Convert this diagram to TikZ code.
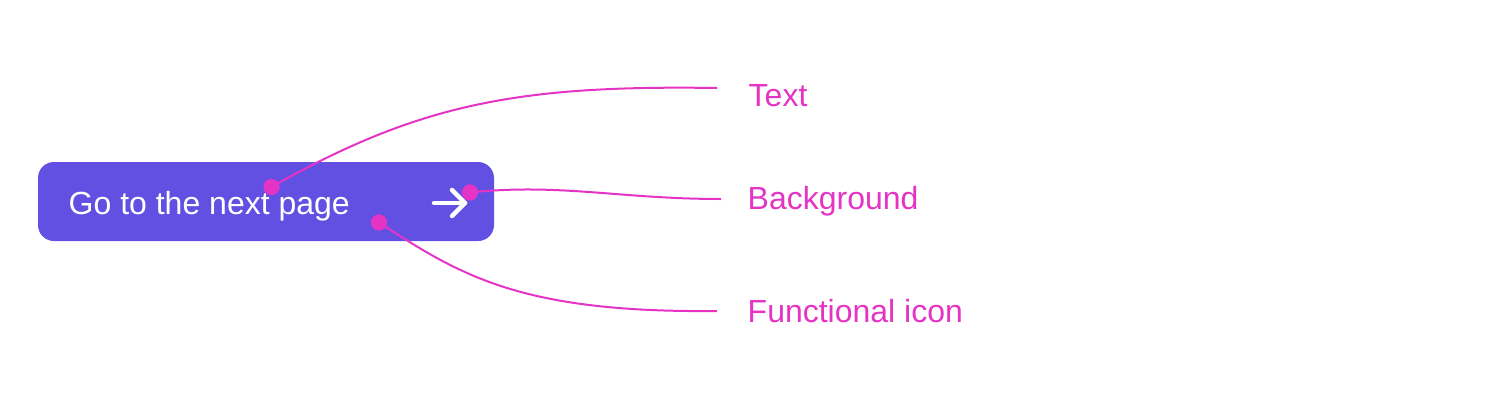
\documentclass[tikz,border=0pt]{standalone}
\usepackage{fontspec}
\setmainfont{Liberation Sans}
\definecolor{btncol}{RGB}{98,80,226}
\definecolor{mag}{RGB}{229,52,197}
\begin{document}
\begin{tikzpicture}[x=1pt,y=-1pt,
  lbl/.style={anchor=base west,inner sep=0pt,text=mag,font=\fontsize{32}{36}\selectfont},
  conn/.style={draw=mag,line width=2pt},
  pin/.style={circle,fill=mag,minimum size=16pt,inner sep=0pt}]
\useasboundingbox (0,0) rectangle (1498,402);
\fill[btncol,rounded corners=16pt] (38,162) rectangle (494,241);
\node[anchor=base west,inner sep=0pt,text=white,font=\fontsize{32}{36}\selectfont] (btntext) at (68.5,214) {Go to the next page};
% arrow icon
\draw[white,line width=4.5pt,line cap=round,line join=round] (434,203) -- (465,203);
\draw[white,line width=4.5pt,line cap=round,line join=round] (452,190) -- (465,203) -- (452,216);
% labels
\node[lbl] (ltext) at (748.5,106) {Text};
\node[lbl] (lbg) at (747.5,209) {Background};
\node[lbl] (lfi) at (747.5,322) {Functional icon};
\coordinate (e1) at (717,88);
\coordinate (e2) at (721,199);
\coordinate (e3) at (717,311);
% connectors
\node[pin] (p1) at (271.5,187) {};
\node[pin] (p2) at (470,192.5) {};
\node[pin] (p3) at (379,222.5) {};
\draw[conn] (p1.center) .. controls (420,103) and (520,85) .. (e1);
\draw[conn] (p2.center) .. controls (560,183) and (620,199) .. (e2);
\draw[conn] (p3.center) .. controls (460,275) and (520,313) .. (e3);
\node[pin] at (p1) {};
\node[pin] at (p2) {};
\node[pin] at (p3) {};
\end{tikzpicture}
\end{document}
